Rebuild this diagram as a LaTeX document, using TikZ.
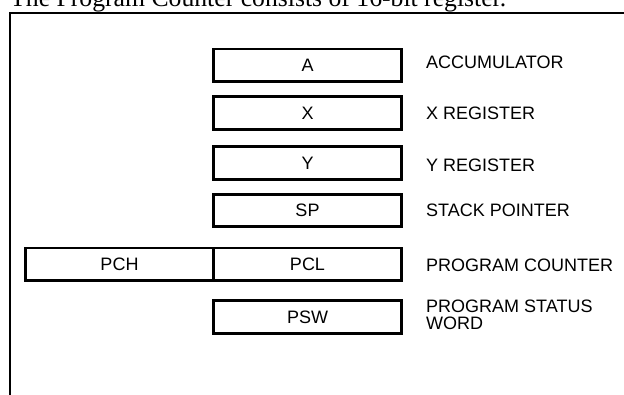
\documentclass[tikz,border=0pt]{standalone}
\usepackage{fontspec}
\setmainfont{Liberation Sans}
\newfontfamily\titlefont{Liberation Serif}
\begin{document}
\begin{tikzpicture}[x=1pt,y=1pt,
  reg/.style={draw=black, line width=2.8pt, minimum width=188pt, minimum height=32.5pt,
    inner sep=0pt, font=\fontsize{18}{20}\selectfont},
  lbl/.style={anchor=base west, inner sep=0pt, font=\fontsize{18}{20}\selectfont},
  frame/.style={draw=black, line width=2pt}]
\useasboundingbox (0,0) rectangle (624,-394);
% title (cut off at the top)
\node[anchor=base west, inner sep=0pt, font=\titlefont\fontsize{25.7}{28}\selectfont] (title) at (10,-6.5)
  {The Program Counter consists of 16-bit register.};
% frame
\coordinate (fb) at (10.3,-400);
\coordinate (fc) at (10.3,-13);
\coordinate (fr) at (630,-13);
\draw[frame] (fb) -- (fc) -- (fr);
% registers
\node[reg] (A) at (307.5,-65.25) {A};
\node[reg] (X) at (307.5,-113) {X};
\node[reg] (Y) at (307.5,-163) {Y};
\node[reg] (SP) at (307.5,-210.5) {SP};
\node[reg] (PCH) at (119.5,-264.25) {PCH};
\node[reg] (PCL) at (307.5,-264.25) {PCL};
\node[reg] (PSW) at (307.5,-317) {PSW};
% labels
\node[lbl] (lA) at (426,-68.3) {ACCUMULATOR};
\node[lbl] (lX) at (426,-119.3) {X REGISTER};
\node[lbl] (lY) at (426,-171) {Y REGISTER};
\node[lbl] (lSP) at (426,-216.7) {STACK POINTER};
\node[lbl] (lPC) at (426,-271.7) {PROGRAM COUNTER};
\node[anchor=west, inner sep=0pt, align=left, font=\fontsize{18}{16.6}\selectfont] (lPSW) at (426,-314.7)
  {PROGRAM STATUS\\WORD};
\end{tikzpicture}
\end{document}
